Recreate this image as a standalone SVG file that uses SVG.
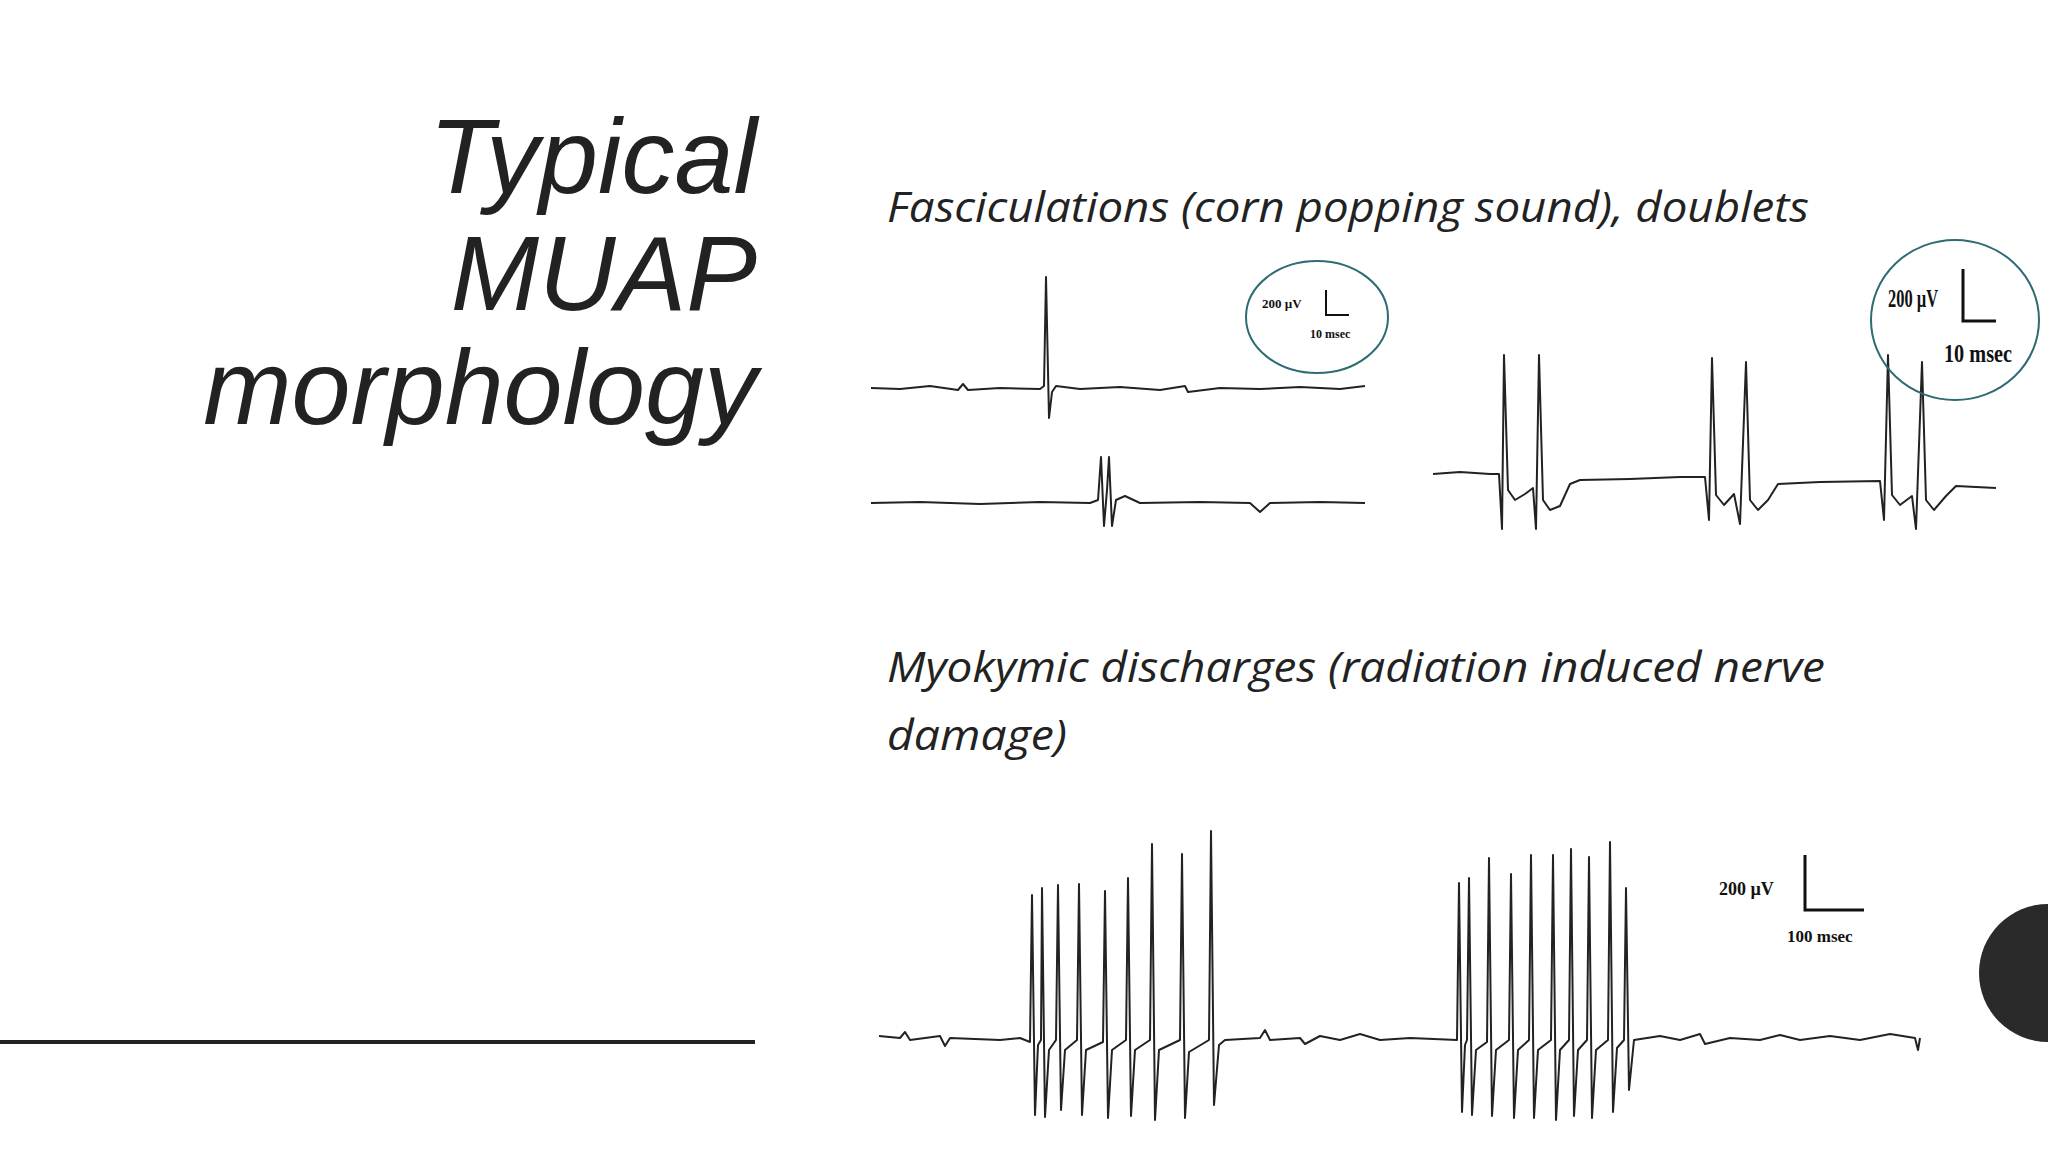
<svg xmlns="http://www.w3.org/2000/svg" width="2048" height="1152" viewBox="0 0 2048 1152">
<style>
.title{font-family:"Liberation Sans",Arial,sans-serif;font-style:italic;font-size:106px;fill:#222;text-anchor:end}
.cap{font-family:"Open Sans","Liberation Sans",sans-serif;font-style:italic;font-size:42px;fill:#222}
.tr{fill:none;stroke:#222;stroke-width:2;stroke-linejoin:round}
.sc{font-family:"Liberation Serif",serif;font-weight:bold;fill:#111}
.ring{fill:none;stroke:#2e6b73;stroke-width:2}
</style>
<rect width="2048" height="1152" fill="#fff"/>
<g id="title">
<text class="title" x="757" y="193">Typical</text>
<text class="title" x="757" y="310">MUAP</text>
<text class="title" x="757" y="424">morphology</text>
<line x1="0" y1="1042" x2="755" y2="1042" stroke="#222" stroke-width="4"/>
</g>
<circle id="dot" cx="2048" cy="973" r="69" fill="#2a2a2a"/>
<g id="captions">
<text class="cap" x="887" y="222" textLength="922" lengthAdjust="spacingAndGlyphs">Fasciculations (corn popping sound), doublets</text>
<text class="cap" x="887" y="682" textLength="938" lengthAdjust="spacingAndGlyphs">Myokymic discharges (radiation induced nerve</text>
<text class="cap" x="887" y="750" textLength="180" lengthAdjust="spacingAndGlyphs">damage)</text>
</g>
<g id="fasciculations">
<path class="tr" d="M871,388 L900,389 L930,386 L958,390 L963,384 L968,390 L1000,388 L1040,389 L1044,386 L1046,277 L1049,418 L1052,392 L1056,386 L1080,389 L1120,387 L1160,390 L1185,386 L1188,392 L1220,388 L1260,389 L1300,387 L1340,389 L1365,386"/>
<path class="tr" d="M871,503 L920,502 L980,504 L1040,502 L1090,503 L1098,500 L1101,457 L1104,526 L1107,490 L1109,457 L1112,526 L1116,500 L1125,496 L1140,503 L1200,502 L1250,503 L1260,512 L1270,503 L1320,502 L1365,503"/>
<ellipse class="ring" cx="1317" cy="317" rx="71" ry="56"/>
<text class="sc" x="1262" y="308" font-size="13">200 µV</text>
<path d="M1326,290 V315 H1349" fill="none" stroke="#111" stroke-width="2"/>
<text class="sc" x="1310" y="338" font-size="12">10 msec</text>
</g>
<g id="doublets">
<path class="tr" d="M1433,474 L1460,472 L1490,474 L1499,474 L1502,529 L1504,355 L1508,490 L1515,500 L1525,494 L1533,488 L1536,529 L1539,355 L1543,500 L1550,510 L1560,506 L1570,484 L1580,480 L1630,479 L1680,477 L1705,477 L1709,520 L1712,358 L1716,495 L1724,505 L1734,494 L1740,524 L1746,362 L1750,500 L1758,510 L1768,500 L1778,484 L1820,482 L1880,481 L1884,520 L1888,355 L1892,495 L1900,505 L1912,496 L1916,529 L1922,362 L1926,500 L1934,510 L1946,496 L1956,486 L1996,488"/>
<ellipse class="ring" cx="1955" cy="320" rx="84" ry="80"/>
<text class="sc" x="1888" y="307" font-size="26" textLength="50" lengthAdjust="spacingAndGlyphs">200 µV</text>
<path d="M1963,269 V321 H1996" fill="none" stroke="#111" stroke-width="3"/>
<text class="sc" x="1944" y="362" font-size="25" textLength="68" lengthAdjust="spacingAndGlyphs">10 msec</text>
</g>
<g id="myokymic">
<path class="tr" stroke-width="2.5" d="M879,1036 L900,1038 L905,1032 L910,1040 L940,1036 L945,1046 L950,1038 L1000,1040 L1020,1038 L1030,1042 L1032,895 L1035,1115 L1038,1045 L1041,1040 L1042,888 L1045,1117 L1049,1050 L1056,1040 L1058,885 L1061,1110 L1065,1050 L1077,1040 L1079,884 L1082,1115 L1086,1050 L1103,1042 L1105,891 L1108,1118 L1112,1050 L1126,1040 L1128,878 L1131,1116 L1135,1050 L1150,1040 L1152,844 L1155,1120 L1159,1050 L1180,1040 L1182,854 L1185,1118 L1189,1052 L1209,1040 L1211,831 L1214,1105 L1219,1045 L1225,1040 L1260,1038 L1265,1030 L1270,1040 L1300,1038 L1305,1044 L1320,1036 L1340,1040 L1360,1034 L1380,1040 L1410,1038 L1457,1040 L1459,883 L1462,1112 L1465,1045 L1467,1040 L1469,878 L1472,1115 L1476,1050 L1487,1042 L1489,858 L1492,1116 L1496,1050 L1509,1040 L1511,874 L1514,1118 L1518,1050 L1529,1040 L1531,855 L1534,1118 L1538,1050 L1551,1040 L1553,855 L1556,1120 L1560,1050 L1569,1040 L1571,849 L1574,1116 L1578,1050 L1587,1040 L1589,857 L1592,1118 L1596,1050 L1608,1040 L1610,842 L1613,1112 L1617,1048 L1624,1040 L1626,888 L1629,1090 L1634,1040 L1660,1036 L1680,1040 L1700,1034 L1705,1044 L1730,1038 L1760,1040 L1780,1035 L1800,1040 L1830,1036 L1860,1040 L1890,1034 L1915,1038 L1918,1050 L1920,1038"/>
<text class="sc" x="1719" y="895" font-size="18">200 µV</text>
<path d="M1805,855 V910 H1864" fill="none" stroke="#111" stroke-width="3"/>
<text class="sc" x="1787" y="942" font-size="17">100 msec</text>
</g>
</svg>
